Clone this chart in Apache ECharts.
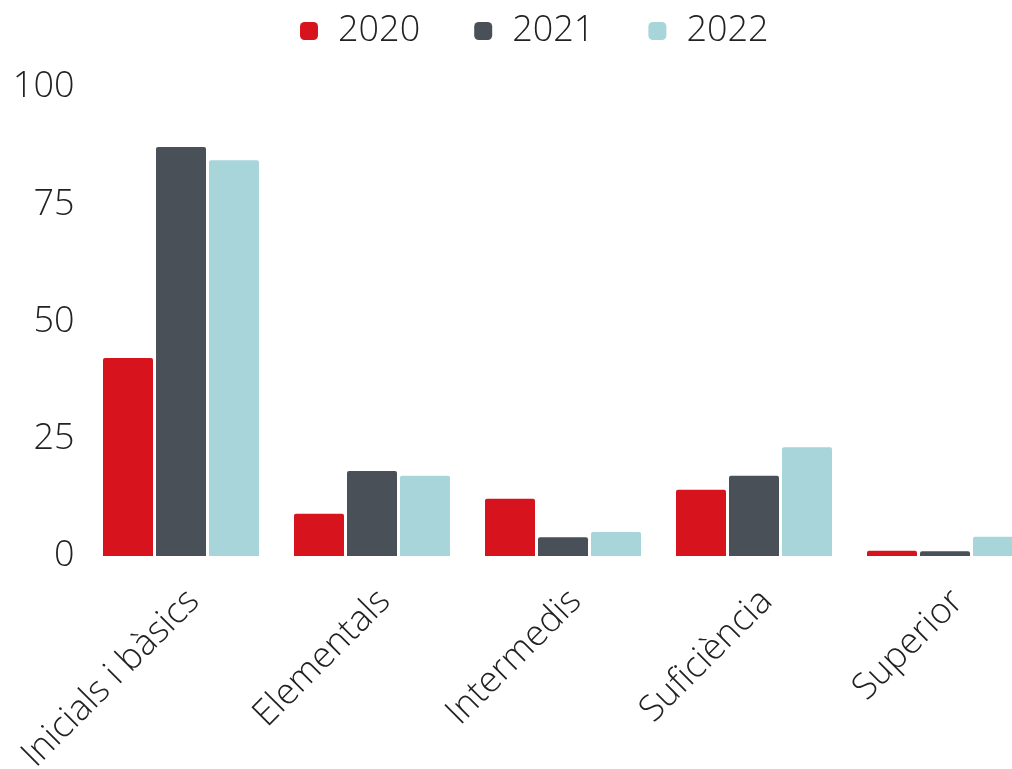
<!DOCTYPE html>
<html>
<head>
<meta charset="utf-8">
<style>
  html, body { margin: 0; padding: 0; background: #fff; }
  #chart { width: 1012px; height: 769px; }
</style>
<script src="https://cdn.jsdelivr.net/npm/echarts@6/dist/echarts.min.js"></script>
</head>
<body>
<div id="chart"></div>
<script>
const categories = ['Inicials i bàsics', 'Elementals', 'Intermedis', 'Suficiència', 'Superior']
const years = ['2020', '2021', '2022']
const values2020 = [42.2, 9.0, 12.2, 14.1, 1.1]
const values2021 = [87.2, 18.1, 4.0, 17.1, 1.0]
const values2022 = [84.4, 17.1, 5.1, 23.2, 4.1]
const colors = ['#d7141e', '#4a5058', '#a8d5da']

const font = 'Open Sans'
const textCol = '#222'

const chart = echarts.init(document.getElementById('chart'))

function bar(name, data, color) {
  return {
    name,
    type: 'bar',
    data,
    barWidth: 50,
    barGap: '6%',
    itemStyle: { color, borderRadius: [2, 2, 0, 0] }
  }
}

chart.setOption({
  animation: false,
  backgroundColor: '#fff',
  color: colors,
  textStyle: { fontFamily: font, fontWeight: 300 },
  legend: {
    top: 8,
    left: 295,
    icon: 'roundRect',
    itemWidth: 18,
    itemHeight: 18,
    itemGap: 54,
    textStyle: { fontFamily: font, fontWeight: 300, fontSize: 36, color: textCol, padding: [0, 0, 0, 15] },
    data: years
  },
  grid: { left: 85.5, width: 955, top: 87, bottom: 213, outerBoundsMode: 'none' },
  xAxis: {
    type: 'category',
    data: categories,
    axisLine: { show: false },
    axisTick: { show: false },
    axisLabel: {
      rotate: 45,
      margin: 27,
      verticalAlign: 'top',
      fontSize: 36,
      fontFamily: font,
      fontWeight: 300,
      color: textCol,
      interval: 0
    }
  },
  yAxis: {
    type: 'value',
    min: 0,
    max: 100,
    interval: 25,
    splitLine: { show: false },
    axisLine: { show: false },
    axisTick: { show: false },
    axisLabel: { fontSize: 36, fontFamily: font, fontWeight: 300, color: textCol, margin: 11 }
  },
  series: [
    bar(years[0], values2020, colors[0]),
    bar(years[1], values2021, colors[1]),
    bar(years[2], values2022, colors[2])
  ]
})
</script>
</body>
</html>
